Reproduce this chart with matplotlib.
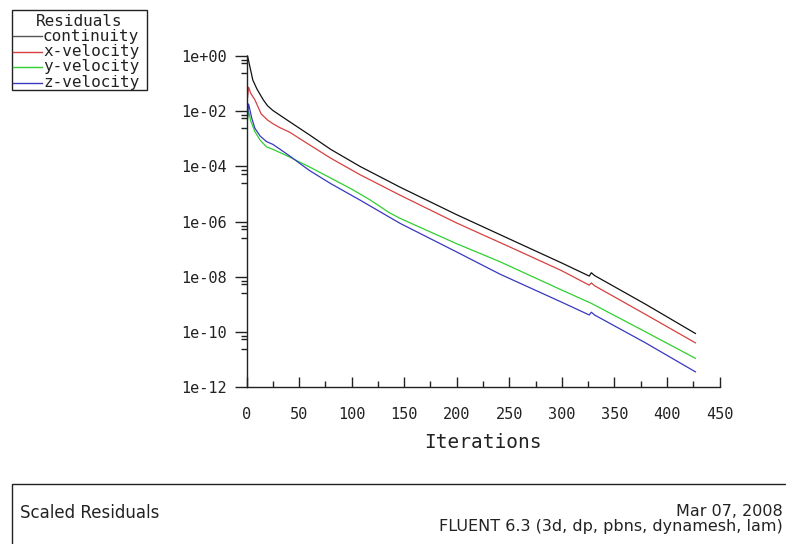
import numpy as np
import matplotlib
matplotlib.use("Agg")
import matplotlib.pyplot as plt
from matplotlib.patches import Rectangle
from matplotlib.lines import Line2D
from matplotlib.ticker import FixedLocator, FixedFormatter, MultipleLocator

# residual histories
it_cont = [1, 3, 6, 10, 16, 20, 25, 32, 41, 60, 80, 108, 146, 200, 260, 300, 326, 328, 331, 380, 427]
res_cont = [1.0, 4.47e-1, 1.35e-1, 6.3e-2, 2.57e-2, 1.58e-2, 1.07e-2, 7.08e-3, 4.17e-3, 1.38e-3,
            4.17e-4, 1.0e-4, 1.78e-5, 1.78e-6, 1.58e-7, 3.16e-8, 1.07e-8, 1.41e-8, 1.12e-8, 1.0e-9, 8.9e-11]

it_xvel = [1, 2, 4, 8, 14, 20, 25, 32, 41, 60, 80, 108, 146, 200, 257, 300, 326, 328, 331, 380, 427]
res_xvel = [3.16e-2, 7.41e-2, 4.47e-2, 2.57e-2, 7.94e-3, 4.79e-3, 3.55e-3, 2.51e-3, 1.74e-3, 6.03e-4,
            2.0e-4, 5.01e-5, 9.12e-6, 8.91e-7, 9.33e-8, 1.66e-8, 5.01e-9, 6.03e-9, 4.79e-9, 4.27e-10, 4.07e-11]

it_yvel = [1, 2, 4, 8, 13, 19, 25, 32, 41, 51, 60, 80, 100, 117, 125, 136, 146, 200, 241, 300, 328, 380, 427]
res_yvel = [5.01e-3, 1.0e-2, 4.47e-3, 1.82e-3, 8.91e-4, 5.13e-4, 4.17e-4, 3.16e-4, 2.19e-4, 1.41e-4,
            9.55e-5, 3.80e-5, 1.51e-5, 6.31e-6, 3.98e-6, 2.09e-6, 1.32e-6, 1.58e-7, 3.55e-8, 3.31e-9,
            1.10e-9, 1.0e-10, 1.12e-11]

it_zvel = [1, 2, 5, 8, 13, 19, 25, 32, 41, 51, 60, 80, 108, 146, 200, 241, 300, 326, 328, 331, 380, 427]
res_zvel = [6.31e-3, 1.82e-2, 5.62e-3, 2.40e-3, 1.26e-3, 7.94e-4, 6.31e-4, 4.17e-4, 2.40e-4, 1.26e-4,
            7.08e-5, 2.40e-5, 6.03e-6, 8.71e-7, 7.94e-8, 1.26e-8, 1.20e-9, 4.17e-10, 5.25e-10, 4.17e-10,
            3.98e-11, 3.63e-12]

names = ["continuity", "x-velocity", "y-velocity", "z-velocity"]
colors = ["#111111", "#d84040", "#30d030", "#3838c0"]
legend_colors = ["#555555", "#d84040", "#30d030", "#3838c0"]

ytick_vals = [1e0, 1e-2, 1e-4, 1e-6, 1e-8, 1e-10, 1e-12]
ytick_labels = ["1e+00", "1e-02", "1e-04", "1e-06", "1e-08", "1e-10", "1e-12"]

W, H = 786, 544
fig = plt.figure(figsize=(W / 100, H / 100), dpi=100)
fig.patch.set_facecolor("white")

def fx(x):
    return x / W

def fy(y):
    return 1 - y / H

ax = fig.add_axes([fx(246.5), fy(387.3), fx(719.6) - fx(246.5), fy(56) - fy(387.3)])

series = [(it_cont, res_cont), (it_xvel, res_xvel), (it_yvel, res_yvel), (it_zvel, res_zvel)]
for (xs, ys), c in zip(series, colors):
    ax.plot(xs, ys, color=c, lw=0.9, clip_on=False)

ax.set_yscale("log")
ax.set_xlim(0, 450)
ax.set_ylim(1e-12, 1e0)

mono = "DejaVu Sans Mono"
tc = "#222222"

ax.yaxis.set_major_locator(FixedLocator(ytick_vals))
ax.yaxis.set_major_formatter(FixedFormatter(ytick_labels))
minor = [v * f for v in ytick_vals[:-1] for f in (0.72, 0.55, 0.25)]
ax.yaxis.set_minor_locator(FixedLocator(minor))
ax.yaxis.set_minor_formatter(FixedFormatter([]))
ax.tick_params(axis="y", which="major", direction="out", length=9, width=1, pad=5, colors=tc, labelsize=11)
ax.tick_params(axis="y", which="minor", direction="out", length=4.5, width=1, colors=tc)

ax.xaxis.set_major_locator(MultipleLocator(50))
ax.xaxis.set_minor_locator(MultipleLocator(25))
ax.tick_params(axis="x", which="major", direction="in", length=7, width=1, pad=14, colors=tc, labelsize=11)
ax.tick_params(axis="x", which="minor", direction="in", length=4, width=1, colors=tc)

for lab in ax.get_xticklabels() + ax.get_yticklabels():
    lab.set_family(mono)

for s in ["top", "right"]:
    ax.spines[s].set_visible(False)
for s in ["left", "bottom"]:
    ax.spines[s].set_color(tc)
    ax.spines[s].set_linewidth(1)
ax.set_facecolor("white")

ax.set_xlabel("Iterations", family=mono, fontsize=14, color=tc, labelpad=8)

# legend box, top left
fig.patches.append(Rectangle((fx(11.7), fy(90)), fx(146.7) - fx(11.7), fy(10) - fy(90),
                             transform=fig.transFigure, fill=False, ec=tc, lw=1))
fig.text(fx(79), fy(21), "Residuals", family=mono, fontsize=11.5, color=tc, ha="center", va="center")
for i, (n, c) in enumerate(zip(names, legend_colors)):
    y = 36 + i * 15.5
    fig.lines.append(Line2D([fx(12.7), fx(41.7)], [fy(y), fy(y)], transform=fig.transFigure, color=c, lw=1))
    fig.text(fx(43), fy(y), n, family=mono, fontsize=11.5, color=tc, ha="left", va="center")

# footer box
fig.patches.append(Rectangle((fx(11.7), fy(560)), fx(800) - fx(11.7), fy(484) - fy(560),
                             transform=fig.transFigure, fill=False, ec=tc, lw=1))
fig.text(fx(20), fy(513), "Scaled Residuals", fontsize=12, color=tc, ha="left", va="center")
fig.text(fx(783), fy(511), "Mar 07, 2008", fontsize=11.5, color=tc, ha="right", va="center")
fig.text(fx(783), fy(527), "FLUENT 6.3 (3d, dp, pbns, dynamesh, lam)", fontsize=11.5, color=tc,
         ha="right", va="center")

fig.savefig("out.png", dpi=100)
